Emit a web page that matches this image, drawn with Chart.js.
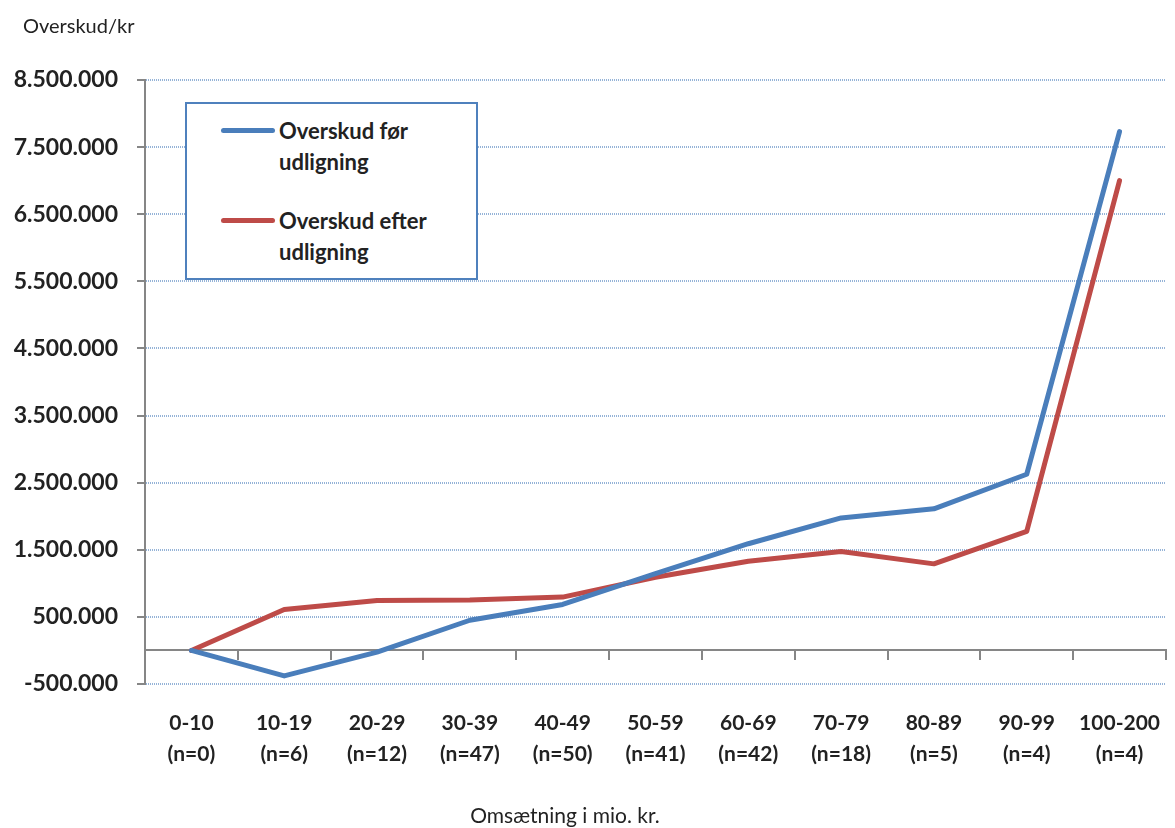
<!DOCTYPE html>
<html>
<head>
<meta charset="utf-8">
<script src="https://cdn.jsdelivr.net/npm/chart.js@4.4.0/dist/chart.umd.min.js"></script>
<style>
  html, body { margin: 0; padding: 0; background: #fff; }
  #wrap { position: relative; width: 1175px; height: 828px; font-family: Lato, sans-serif; color: #222; }
  #c { position: absolute; left: 0; top: 0; }
  #legend { position: absolute; left: 185px; top: 102px; width: 293px; height: 178px; box-sizing: border-box;
            border: 2px solid #4f81bd; background: #fff; }
  .item { position: absolute; left: 0; width: 100%; }
  .swatch { position: absolute; left: 34px; top: 13px; width: 54px; height: 5px; border-radius: 3px; }
  .txt { position: absolute; left: 92px; top: 0; width: 180px; font-weight: bold; font-size: 22px; line-height: 31px; }
  #ytitle { position: absolute; left: 23px; top: 11px; font-size: 20px; line-height: 28px; }
  #xtitle { position: absolute; left: 365px; width: 400px; top: 800px; text-align: center; font-size: 21px; line-height: 30px; }
</style>
</head>
<body>
<div id="wrap">
  <canvas id="c" width="1175" height="828"></canvas>
  <div id="ytitle">Overskud/kr</div>
  <div id="legend"></div>
  <div id="xtitle">Omsætning i mio. kr.</div>
</div>
<script>
// kategorier (omsætning) og antal virksomheder
var ranges = ['0-10', '10-19', '20-29', '30-39', '40-49', '50-59', '60-69', '70-79', '80-89', '90-99', '100-200'];
var counts = ['(n=0)', '(n=6)', '(n=12)', '(n=47)', '(n=50)', '(n=41)', '(n=42)', '(n=18)', '(n=5)', '(n=4)', '(n=4)'];

// overskud i kr.
var foerUdligning  = [0, -380000, -25000, 450000, 685000, 1145000, 1590000, 1975000, 2110000, 2625000, 7730000];
var efterUdligning = [0, 610000, 745000, 750000, 795000, 1090000, 1330000, 1475000, 1290000, 1775000, 7000000];

var yTicks = { min: -500000, max: 8500000, step: 1000000 };

function fmt(v) {
  var s = Math.abs(v).toString().replace(/\B(?=(\d{3})+(?!\d))/g, '.');
  return (v < 0 ? '-' : '') + s;
}

var labels = ranges.map(function (r, i) { return [r, counts[i]]; });
var gray = '#868686';
var textColor = '#222';

var ctx = document.getElementById('c').getContext('2d');
var chart = new Chart(ctx, {
  type: 'line',
  data: {
    labels: labels,
    datasets: [{
      label: 'Overskud før udligning',
      data: foerUdligning,
      borderColor: '#4a7ebb',
      backgroundColor: '#4a7ebb',
      borderWidth: 5,
      pointRadius: 0,
      tension: 0,
      borderCapStyle: 'round',
      borderJoinStyle: 'round'
    }, {
      label: 'Overskud efter udligning',
      data: efterUdligning,
      borderColor: '#be4b48',
      backgroundColor: '#be4b48',
      borderWidth: 5,
      pointRadius: 0,
      tension: 0,
      borderCapStyle: 'round',
      borderJoinStyle: 'round'
    }]
  },
  options: {
    responsive: false,
    animation: false,
    layout: { padding: { left: 0, right: 0, top: 80, bottom: 43 } },
    plugins: {
      legend: { display: false },
      tooltip: { enabled: false }
    },
    scales: {
      x: {
        offset: true,
        grid: { display: false },
        border: { display: false },
        ticks: {
          padding: 15,
          color: textColor,
          autoSkip: false,
          maxRotation: 0,
          font: { family: 'Lato', size: 21, weight: 'bold', lineHeight: 1.5 }
        }
      },
      // nul-linjen med tickmarks mellem kategorierne
      x0: {
        type: 'category',
        position: { y: 0 },
        offset: true,
        ticks: { display: false },
        grid: { display: true, drawOnChartArea: false, drawTicks: true, tickLength: 9, offset: true, color: gray, lineWidth: 2 },
        border: { display: true, color: gray, width: 2 }
      },
      y: {
        min: yTicks.min,
        max: yTicks.max,
        afterFit: function (scale) { scale.width = 145; },
        ticks: {
          stepSize: yTicks.step,
          padding: 19,
          color: textColor,
          font: { family: 'Lato', size: 23, weight: 'bold' },
          callback: function (v) { return fmt(v); }
        },
        grid: { color: '#95b3d7', lineWidth: 2, tickColor: gray, tickLength: 8, tickWidth: 2, tickBorderDash: [] },
        border: { display: true, color: gray, width: 2, dash: [1, 1] }
      }
    }
  }
});

// legende som html, så teksten kan ombrydes som i originalen
var legend = document.getElementById('legend');
chart.data.datasets.forEach(function (ds, i) {
  var item = document.createElement('div');
  item.className = 'item';
  item.style.top = (11 + i * 90) + 'px';
  var sw = document.createElement('div');
  sw.className = 'swatch';
  sw.style.background = ds.borderColor;
  var t = document.createElement('div');
  t.className = 'txt';
  t.textContent = ds.label;
  item.appendChild(sw);
  item.appendChild(t);
  legend.appendChild(item);
});
</script>
</body>
</html>
